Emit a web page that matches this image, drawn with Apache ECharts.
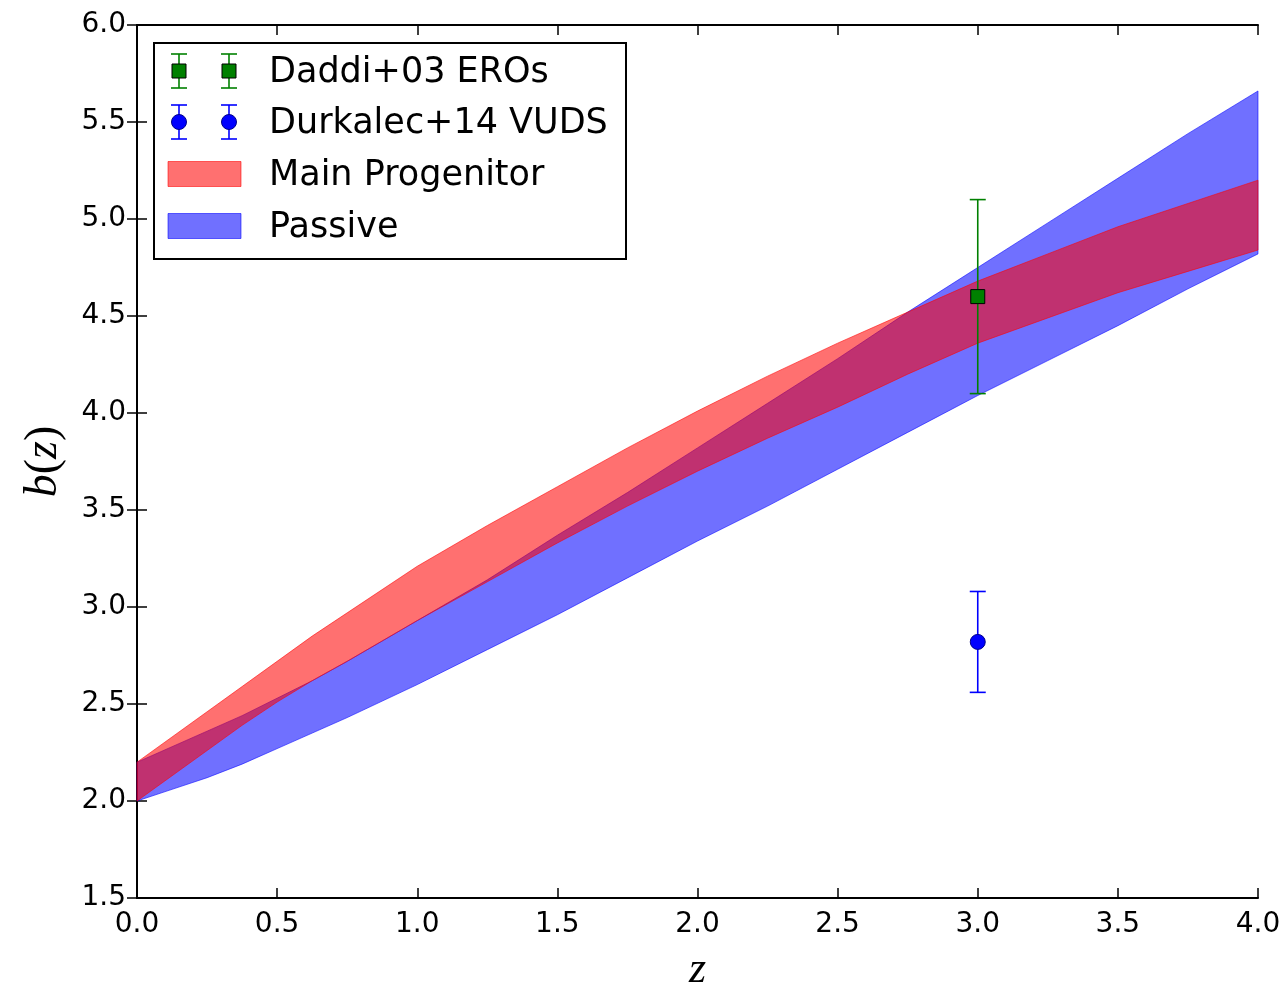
<!DOCTYPE html>
<html>
<head>
<meta charset="utf-8">
<script src="https://cdn.jsdelivr.net/npm/echarts@6/dist/echarts.min.js"></script>
<style>
html,body{margin:0;padding:0;background:#fff;}
#chart{width:1287px;height:991px;}
</style>
</head>
<body>
<div id="chart"></div>
<script>
// ---- data ----
const zGrid        = [0.00, 0.125, 0.25, 0.375, 0.50, 0.625, 0.75, 1.00, 1.25, 1.50, 1.75, 2.00, 2.25, 2.50, 2.75, 3.00, 3.25, 3.50, 3.75, 4.00];
const passiveLow   = [2.00, 2.06, 2.12, 2.19, 2.27, 2.35, 2.43, 2.60, 2.78, 2.96, 3.15, 3.34, 3.52, 3.71, 3.90, 4.09, 4.27, 4.45, 4.64, 4.82];
const passiveHigh  = [2.20, 2.28, 2.36, 2.44, 2.53, 2.62, 2.72, 2.93, 3.14, 3.37, 3.59, 3.82, 4.05, 4.28, 4.52, 4.75, 4.98, 5.21, 5.44, 5.66];
const mainProgLow  = [2.00, 2.13, 2.26, 2.39, 2.51, 2.62, 2.72, 2.93, 3.13, 3.33, 3.52, 3.70, 3.87, 4.03, 4.20, 4.36, 4.49, 4.62, 4.73, 4.84];
const mainProgHigh = [2.20, 2.33, 2.46, 2.59, 2.72, 2.85, 2.97, 3.21, 3.42, 3.62, 3.82, 4.01, 4.19, 4.36, 4.52, 4.68, 4.82, 4.96, 5.08, 5.20];

const daddiZ = [3.0], daddiB = [4.60], daddiErr = [0.50];
const durkZ  = [3.0], durkB  = [2.82], durkErr  = [0.26];

const xTicks = [0, 0.5, 1.0, 1.5, 2.0, 2.5, 3.0, 3.5, 4.0];
const yTicks = [1.5, 2.0, 2.5, 3.0, 3.5, 4.0, 4.5, 5.0, 5.5, 6.0];

const legendNames = ['Daddi+03 EROs', 'Durkalec+14 VUDS', 'Main Progenitor', 'Passive'];

// ---- styles ----
const RED_FILL  = 'rgba(255,0,0,0.56)';
const BLUE_FILL = 'rgba(0,0,255,0.56)';
const GREEN = '#008000';
const BLUE  = '#0000ff';
const FONT  = 'DejaVu Sans';

function bandSeries(name, lo, hi, fill, z) {
  return {
    type: 'custom', name: name, z: z,
    data: [[zGrid[0], lo[0]]],
    renderItem: function (params, api) {
      const pts = [];
      for (let i = 0; i < zGrid.length; i++) pts.push(api.coord([zGrid[i], hi[i]]));
      for (let i = zGrid.length - 1; i >= 0; i--) pts.push(api.coord([zGrid[i], lo[i]]));
      return { type: 'polygon', shape: { points: pts },
               style: { fill: fill, stroke: fill, lineWidth: 1 } };
    },
    silent: true
  };
}

function errSeries(name, zs, bs, es, color) {
  return {
    type: 'custom', name: name, z: 5,
    data: zs.map((z, i) => [z, bs[i], es[i]]),
    renderItem: function (params, api) {
      const x = api.value(0), y = api.value(1), e = api.value(2);
      const top = api.coord([x, y + e]), bot = api.coord([x, y - e]);
      const cw = 8;
      const st = { stroke: color, lineWidth: 1.6 };
      return { type: 'group', children: [
        { type: 'line', shape: { x1: top[0], y1: top[1], x2: bot[0], y2: bot[1] }, style: st },
        { type: 'line', shape: { x1: top[0] - cw, y1: top[1], x2: top[0] + cw, y2: top[1] }, style: st },
        { type: 'line', shape: { x1: bot[0] - cw, y1: bot[1], x2: bot[0] + cw, y2: bot[1] }, style: st }
      ]};
    },
    silent: true
  };
}

const axisCommon = {
  type: 'value',
  axisLine: { show: true, lineStyle: { color: '#000', width: 2 } },
  axisTick: { show: true, inside: true, length: 10, lineStyle: { color: '#000', width: 1.5 } },
  splitLine: { show: false }
};

// legend graphics
const LX = 154, LY = 43, LW = 472, LH = 216;
const rowY = [71, 122, 174, 226];
const mk = [179, 229];
const legendChildren = [
  { type: 'rect', shape: { x: LX, y: LY, width: LW, height: LH }, style: { fill: '#fff', stroke: '#000', lineWidth: 2 } }
];
mk.forEach(function (x) {
  [[rowY[0], GREEN], [rowY[1], BLUE]].forEach(function (r) {
    const y = r[0], c = r[1];
    legendChildren.push({ type: 'line', shape: { x1: x, y1: y - 17, x2: x, y2: y + 17 }, style: { stroke: c, lineWidth: 1.6 } });
    legendChildren.push({ type: 'line', shape: { x1: x - 8, y1: y - 17, x2: x + 8, y2: y - 17 }, style: { stroke: c, lineWidth: 1.6 } });
    legendChildren.push({ type: 'line', shape: { x1: x - 8, y1: y + 17, x2: x + 8, y2: y + 17 }, style: { stroke: c, lineWidth: 1.6 } });
  });
  legendChildren.push({ type: 'rect', shape: { x: x - 7, y: rowY[0] - 7, width: 14, height: 14 }, style: { fill: GREEN, stroke: '#000', lineWidth: 1 } });
  legendChildren.push({ type: 'circle', shape: { cx: x, cy: rowY[1], r: 7.5 }, style: { fill: BLUE, stroke: '#00008b', lineWidth: 1 } });
});
legendChildren.push({ type: 'rect', shape: { x: 168, y: rowY[2] - 12.5, width: 73, height: 25 }, style: { fill: RED_FILL, stroke: RED_FILL, lineWidth: 1 } });
legendChildren.push({ type: 'rect', shape: { x: 168, y: rowY[3] - 12.5, width: 73, height: 25 }, style: { fill: BLUE_FILL, stroke: BLUE_FILL, lineWidth: 1 } });
legendNames.forEach(function (n, i) {
  legendChildren.push({ type: 'text', x: 269, y: rowY[i] + 2, style: { text: n, fill: '#000', font: '35px "DejaVu Sans"', textVerticalAlign: 'middle', textAlign: 'left' } });
});

const chart = echarts.init(document.getElementById('chart'), null, { renderer: 'canvas' });
chart.setOption({
  backgroundColor: '#fff',
  animation: false,
  grid: { left: 137, right: 29, top: 25, bottom: 93, containLabel: false, outerBoundsMode: 'none' },
  xAxis: [
    Object.assign({}, axisCommon, {
      position: 'bottom', min: xTicks[0], max: xTicks[xTicks.length - 1], interval: 0.5,
      axisLabel: { show: true, margin: 13, color: '#000', fontSize: 28, fontFamily: FONT, formatter: v => v.toFixed(1) },
      name: 'z', nameLocation: 'middle', nameGap: 50,
      nameTextStyle: { fontFamily: 'Liberation Serif', fontStyle: 'italic', fontSize: 44, color: '#000' }
    }),
    Object.assign({}, axisCommon, {
      position: 'top', min: xTicks[0], max: xTicks[xTicks.length - 1], interval: 0.5,
      axisLabel: { show: false }
    })
  ],
  yAxis: [
    Object.assign({}, axisCommon, {
      position: 'left', min: yTicks[0], max: yTicks[yTicks.length - 1], interval: 0.5,
      axisLabel: { show: true, margin: 11, color: '#000', fontSize: 28, fontFamily: FONT, formatter: v => v.toFixed(1) },
      name: '{i|b}{n|(}{i|z}{n|)}', nameLocation: 'middle', nameGap: 70, nameRotate: 90,
      nameTextStyle: { color: '#000', rich: {
        i: { fontFamily: 'Liberation Serif', fontStyle: 'italic', fontSize: 46, color: '#000' },
        n: { fontFamily: 'Liberation Serif', fontSize: 46, color: '#000' }
      } }
    }),
    Object.assign({}, axisCommon, {
      position: 'right', min: yTicks[0], max: yTicks[yTicks.length - 1], interval: 0.5,
      axisLabel: { show: false }
    })
  ],
  series: [
    bandSeries('Passive', passiveLow, passiveHigh, BLUE_FILL, 1),
    bandSeries('Main Progenitor', mainProgLow, mainProgHigh, RED_FILL, 2),
    errSeries('Daddi err', daddiZ, daddiB, daddiErr, GREEN),
    errSeries('Durkalec err', durkZ, durkB, durkErr, BLUE),
    { type: 'scatter', name: 'Daddi+03 EROs', z: 6, symbol: 'rect', symbolSize: 14,
      data: daddiZ.map((z, i) => [z, daddiB[i]]),
      itemStyle: { color: GREEN, borderColor: '#000', borderWidth: 1, opacity: 1 }, silent: true },
    { type: 'scatter', name: 'Durkalec+14 VUDS', z: 6, symbol: 'circle', symbolSize: 15,
      data: durkZ.map((z, i) => [z, durkB[i]]),
      itemStyle: { color: BLUE, borderColor: '#00008b', borderWidth: 1, opacity: 1 }, silent: true }
  ],
  graphic: [{ type: 'group', z: 100, children: legendChildren }]
});
</script>
</body>
</html>
